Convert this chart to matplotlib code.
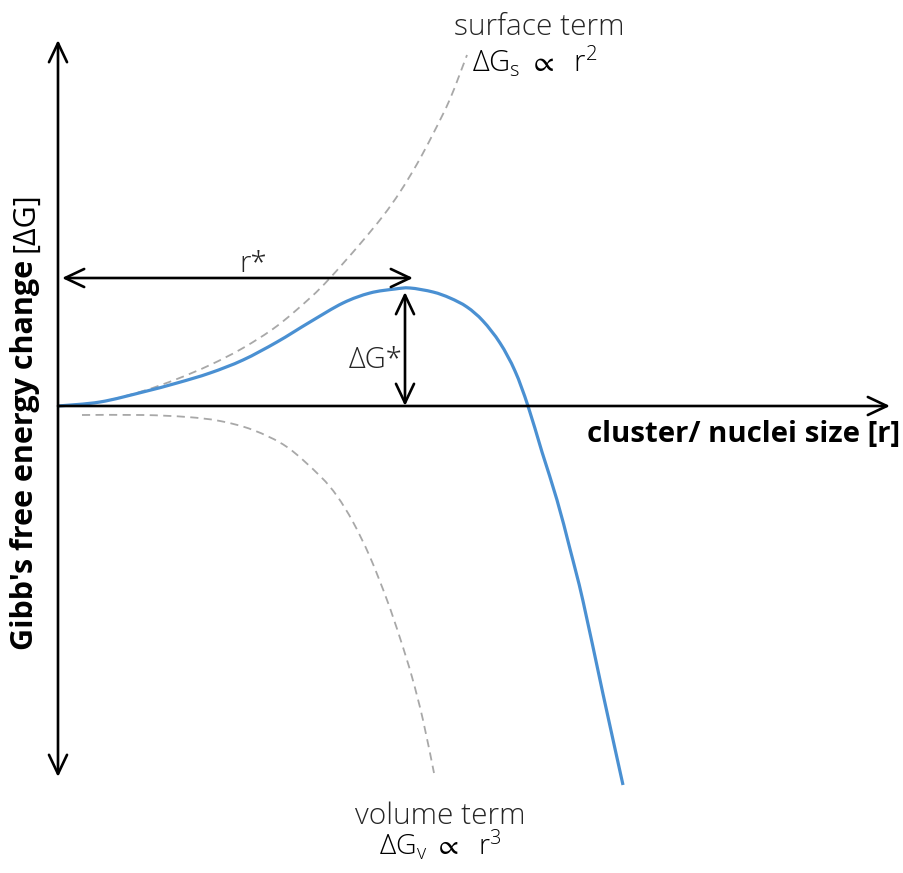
import matplotlib
matplotlib.use("Agg")
import matplotlib.pyplot as plt
from matplotlib.path import Path
from matplotlib.patches import PathPatch

plt.rcParams["mathtext.fontset"] = "custom"
plt.rcParams["mathtext.rm"] = "Open Sans"
plt.rcParams["mathtext.it"] = "Open Sans"
plt.rcParams["mathtext.fallback"] = "stixsans"

# Classical nucleation: free-energy change versus cluster radius (schematic units,
# origin at the crossing of the two axes)
r_total = [0, 42, 85, 119, 152, 185, 219, 252, 285, 312, 337, 352, 375, 392, 409,
           425, 442, 457, 470, 484, 499, 512, 525, 545, 565]
g_total = [0, 4, 14, 23, 33, 46, 64, 84, 103, 113, 117, 118, 114, 108, 99,
           85, 63, 35, 0, -46, -94, -143, -195, -288, -379]

r_surface = [0, 42, 85, 119, 152, 185, 219, 252, 272, 302, 325, 342, 359, 375, 392, 409]
g_surface = [0, 4, 15, 27, 41, 58, 80, 108, 128, 162, 190, 214, 242, 272, 307, 351]

r_volume = [24, 85, 129, 162, 195, 229, 262, 279, 295, 312, 329, 342, 354, 365, 376]
g_volume = [-9, -9, -11, -15, -24, -41, -70, -90, -116, -151, -194, -232, -271, -314, -367]

# critical radius / barrier markers
r_star_span = (4, 355)
r_star_level = 128
dg_star_pos = 347
dg_star_span = (0, 114)

# axis extents
x_axis_end = 832
y_axis_span = (-371, 366)

BLUE = "#4a90d2"
GREY = "#a8a8a8"
TXT = "#262626"


def smooth_curve(xs, ys):
    """Cubic Bezier path running through every given point (Catmull-Rom tangents)."""
    pts = list(zip(xs, ys))
    n = len(pts)
    verts = [pts[0]]
    codes = [Path.MOVETO]
    for i in range(n - 1):
        p0 = pts[i - 1] if i > 0 else pts[i]
        p1 = pts[i]
        p2 = pts[i + 1]
        p3 = pts[i + 2] if i + 2 < n else pts[i + 1]
        c1 = (p1[0] + (p2[0] - p0[0]) / 6, p1[1] + (p2[1] - p0[1]) / 6)
        c2 = (p2[0] - (p3[0] - p1[0]) / 6, p2[1] - (p3[1] - p1[1]) / 6)
        verts += [c1, c2, p2]
        codes += [Path.CURVE4] * 3
    return Path(verts, codes)


fig = plt.figure(figsize=(9.04, 8.73), dpi=100)
ax = fig.add_axes([0, 0, 1, 1])
ax.set_xlim(-58, 846)
ax.set_ylim(-467, 406)
ax.axis("off")

# component terms and total
for rs, gs in [(r_surface, g_surface), (r_volume, g_volume)]:
    ax.add_patch(PathPatch(smooth_curve(rs, gs), fill=False, edgecolor=GREY, lw=1.3,
                           linestyle=(0, (4.5, 3.0)), zorder=2))
ax.add_patch(PathPatch(smooth_curve(r_total, g_total), fill=False, edgecolor=BLUE,
                       lw=2.3, capstyle="butt", zorder=3))

arrow_kw = dict(arrowstyle="->,head_length=0.55,head_width=0.26", color="black",
                lw=1.9, shrinkA=0, shrinkB=0, mutation_scale=25)
arrow2_kw = dict(arrowstyle="<->,head_length=0.55,head_width=0.26", color="black",
                 lw=1.9, shrinkA=0, shrinkB=0, mutation_scale=25)

# axes as arrows
ax.annotate("", xy=(0, y_axis_span[1]), xytext=(0, y_axis_span[0]), arrowprops=arrow2_kw)
ax.annotate("", xy=(x_axis_end, 0), xytext=(0, 0), arrowprops=arrow_kw)

# r* and dG* dimension arrows
ax.annotate("", xy=(r_star_span[1], r_star_level), xytext=(r_star_span[0], r_star_level),
            arrowprops=arrow2_kw)
ax.annotate("", xy=(dg_star_pos, dg_star_span[1]), xytext=(dg_star_pos, dg_star_span[0]),
            arrowprops=arrow2_kw)

light = dict(family="Open Sans", fontweight="light")
ax.text(195, 134, "r*", ha="center", va="baseline", fontsize=21, color=TXT, **light)
ax.text(dg_star_pos - 2, 38, "ΔG*", ha="right", va="baseline", fontsize=21, color=TXT, **light)

ax.text(481, 371, "surface term", ha="center", va="baseline", fontsize=21.5, color=TXT, **light)
ax.text(477, 334, r"ΔG$_{\mathregular{s}}$ $\propto$  r$^{\mathregular{2}}$", ha="center",
        va="baseline", fontsize=21, color="black", **light)
ax.text(382, -418, "volume term", ha="center", va="baseline", fontsize=21.5, color=TXT, **light)
ax.text(382, -449, r"ΔG$_{\mathregular{v}}$ $\propto$  r$^{\mathregular{3}}$", ha="center",
        va="baseline", fontsize=20.5, color="black", **light)

ax.text(842, -36, "cluster/ nuclei size [r]", ha="right", va="baseline", fontsize=21.2,
        fontweight="bold", family="Open Sans", color="black")

# vertical axis title: bold words followed by the regular-weight symbol
t1 = ax.text(-33, -244, "Gibb's free energy change ", rotation=90, ha="center", va="bottom",
             fontsize=22, fontweight="bold", family="Open Sans", color="black")
fig.canvas.draw()
bb = t1.get_window_extent(fig.canvas.get_renderer())
top = ax.transData.inverted().transform((0, bb.y1))[1]
ax.text(-33, top, "[ΔG]", rotation=90, ha="center", va="bottom", fontsize=22,
        family="Open Sans", color="black")

fig.savefig("out.png", dpi=100)
